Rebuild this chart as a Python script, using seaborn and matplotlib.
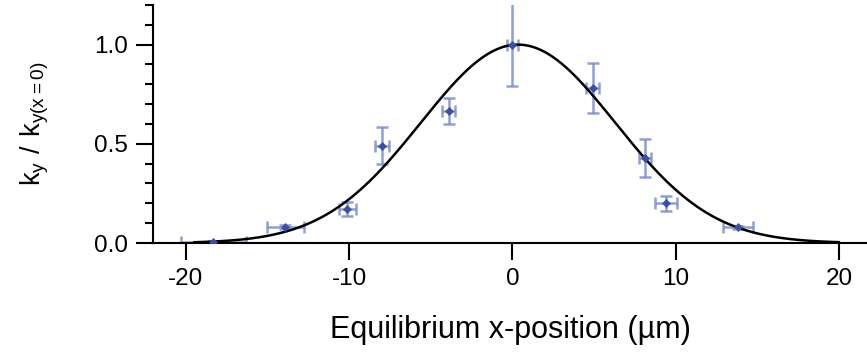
import numpy as np
import pandas as pd
import seaborn as sns
import matplotlib.pyplot as plt
from matplotlib.ticker import MultipleLocator

# measured points
x_pos = [-18.3, -13.9, -10.1, -8.0, -3.9, 0.0, 4.9, 8.1, 9.4, 13.8]
k_ratio = [0.005, 0.082, 0.172, 0.49, 0.667, 1.0, 0.781, 0.428, 0.20, 0.079]
x_err = [2.0, 1.15, 0.54, 0.43, 0.4, 0.35, 0.4, 0.36, 0.65, 0.93]
y_err = [0.005, 0.01, 0.034, 0.094, 0.065, 0.21, 0.126, 0.096, 0.038, 0.008]

# gaussian fit parameters
fit_mu = 0.34
fit_sigma = 5.95
fit_range = [-19.5, 20.0]

sns.set_style("ticks")
plt.rcParams['font.family'] = ['Liberation Sans', 'DejaVu Sans']
plt.rcParams['axes.unicode_minus'] = False
plt.rcParams['mathtext.default'] = 'regular'
plt.rcParams['text.color'] = 'black'
plt.rcParams['axes.labelcolor'] = 'black'
plt.rcParams['xtick.color'] = 'black'
plt.rcParams['ytick.color'] = 'black'
plt.rcParams['axes.edgecolor'] = 'black'

df = pd.DataFrame({'x': x_pos, 'k': k_ratio})
xf = np.linspace(fit_range[0], fit_range[1], 400)
fit = pd.DataFrame({'x': xf, 'k': np.exp(-(xf - fit_mu) ** 2 / (2 * fit_sigma ** 2))})

fig = plt.figure(figsize=(8.67, 3.53), dpi=100)
ax = fig.add_axes([0.1765, 0.3116, 0.8235, 0.6744])

ax.errorbar(x_pos, k_ratio, xerr=x_err, yerr=y_err, fmt='none',
            ecolor='#7b8fd0', alpha=0.85, elinewidth=1.8, capsize=4, capthick=1.8, zorder=2)
sns.lineplot(data=fit, x='x', y='k', color='black', linewidth=1.8, ax=ax, zorder=3)
sns.scatterplot(data=df, x='x', y='k', marker='D', s=18, color='#3a50a8',
                edgecolor='#3a50a8', ax=ax, zorder=4)

ax.set_xlim(-22.0, 21.7)
ax.set_ylim(0, 1.2)
ax.set_xticks([-20, -10, 0, 10, 20])
ax.yaxis.set_major_locator(MultipleLocator(0.5))
ax.yaxis.set_minor_locator(MultipleLocator(0.1))
ax.yaxis.set_major_formatter(plt.FormatStrFormatter('%.1f'))

for s in ['top', 'right']:
    ax.spines[s].set_visible(False)
for s in ['left', 'bottom']:
    ax.spines[s].set_linewidth(1.5)
ax.tick_params(which='major', length=12, width=1.5, labelsize=17.5, pad=6)
ax.tick_params(which='minor', length=5.5, width=1.5)
ax.tick_params(axis='x', which='minor', bottom=False)

ax.set_xlabel('Equilibrium x-position (µm)', fontsize=22, labelpad=18)
ax.set_ylabel(r'$k_y\ /\ k_{y(x{=}0)}$', fontsize=19.5, labelpad=31)

fig.savefig('out.png', dpi=100)
